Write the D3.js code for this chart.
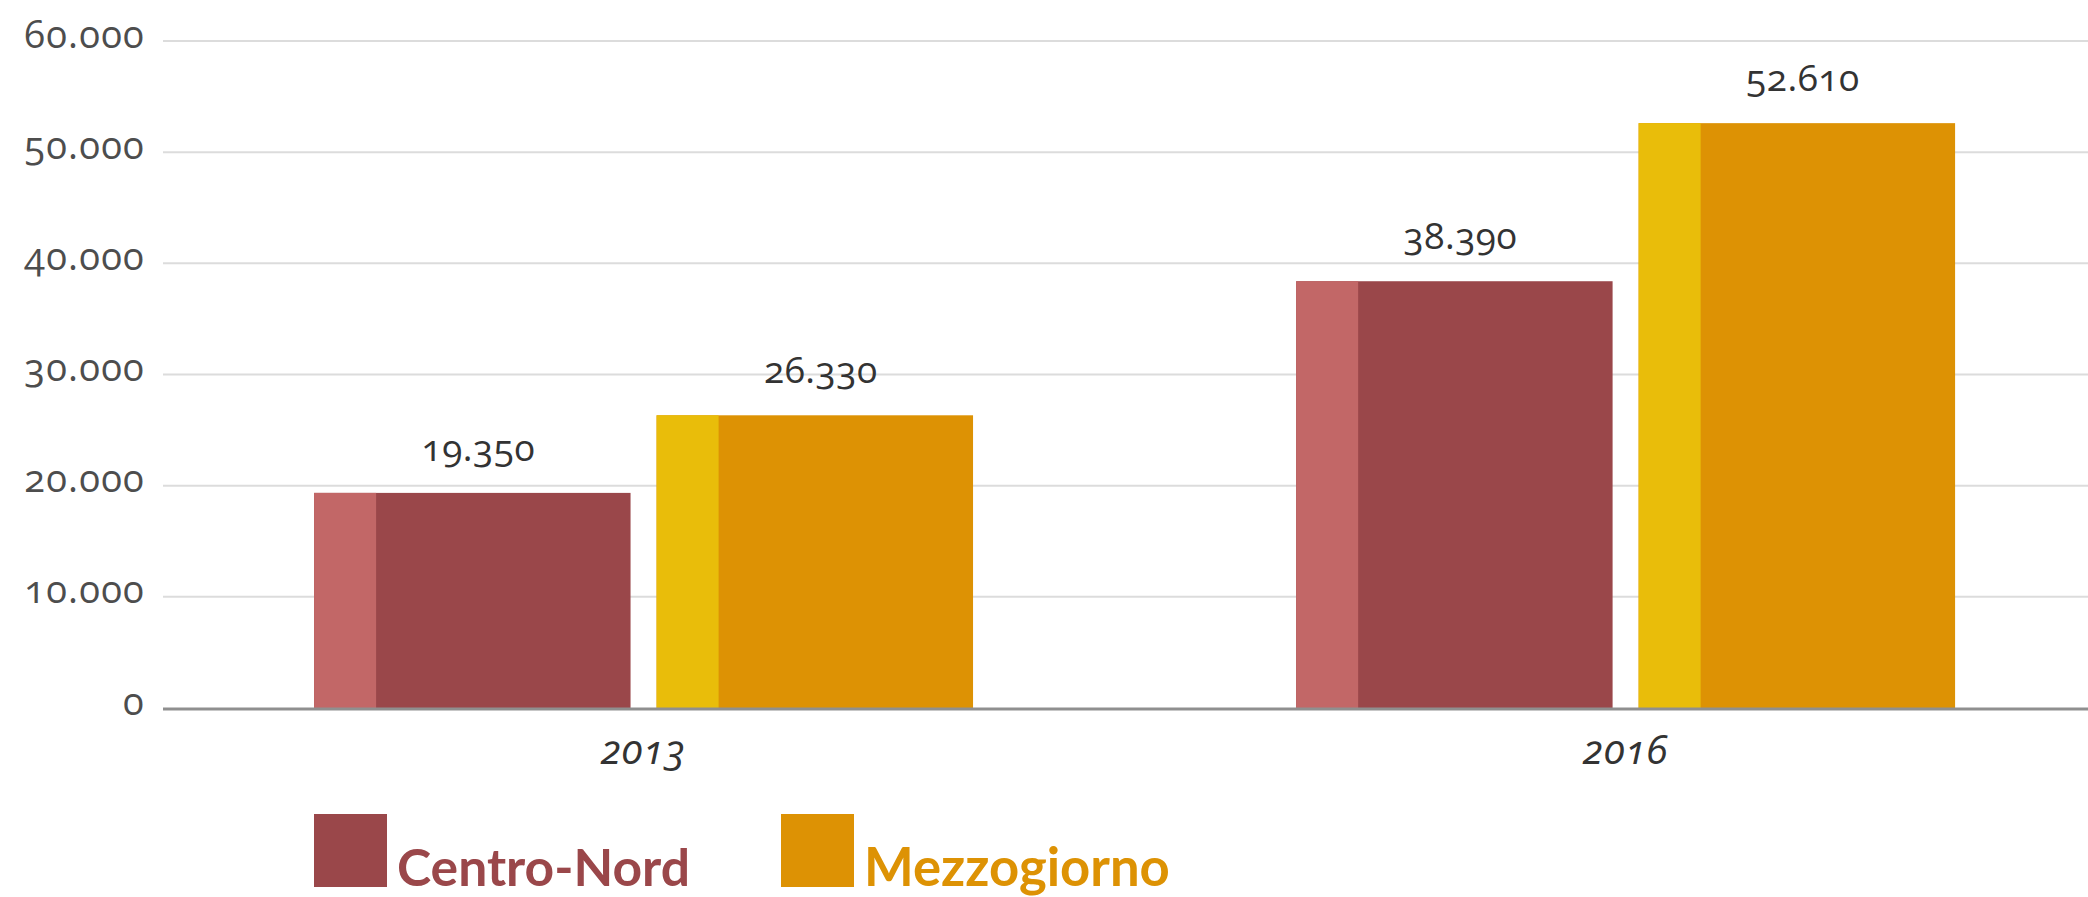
<!DOCTYPE html>
<html>
<head>
<meta charset="utf-8">
<script src="https://cdn.jsdelivr.net/npm/d3@7"></script>
<style>
  html, body { margin: 0; padding: 0; background: #ffffff; }
  svg { display: block; }
  .num { font-family: "Open Sans", "Noto Sans", sans-serif; font-variant-numeric: oldstyle-nums; font-feature-settings: "onum" 1; }
</style>
</head>
<body>
<svg id="chart" width="2088" height="897"></svg>
<script>
// ---- data ----
const years = ["2013", "2016"];
const seriesNames = ["Centro-Nord", "Mezzogiorno"];
const centroNord = [19350, 38390];
const mezzogiorno = [26330, 52610];
const yTicks = [0, 10000, 20000, 30000, 40000, 50000, 60000];

const darkColors = {"Centro-Nord": "#9a474a", "Mezzogiorno": "#dd9204"};
const lightColors = {"Centro-Nord": "#c26767", "Mezzogiorno": "#e9bd0a"};

const W = 2088, H = 897;
const svg = d3.select("#chart");

const locale = d3.formatLocale({decimal: ",", thousands: ".", grouping: [3], currency: ["€", ""]});
const fmt = locale.format(",d");

const y = d3.scaleLinear().domain([0, 60000]).range([708, 41]);
const x0 = d3.scaleBand().domain(years).range([163, W])
  .paddingInner(0.329).paddingOuter(0.1446).align(0.532);
const x1 = d3.scaleBand().domain(seriesNames).range([0, x0.bandwidth()]).paddingInner(0.076);

const rows = years.map((yr, i) => ({year: yr, values: [
  {name: "Centro-Nord", value: centroNord[i]},
  {name: "Mezzogiorno", value: mezzogiorno[i]}
]}));

// gridlines
svg.append("g").selectAll("line").data(yTicks.filter(d => d > 0)).join("line")
  .attr("x1", 163).attr("x2", W)
  .attr("y1", d => y(d)).attr("y2", d => y(d))
  .attr("stroke", "#dcdcdc").attr("stroke-width", 2);

// y tick labels via axis
const yAxis = d3.axisLeft(y).tickValues(yTicks).tickFormat(fmt).tickSize(0).tickPadding(0);
const ya = svg.append("g").attr("transform", "translate(145,0)").call(yAxis);
ya.select(".domain").remove();
ya.selectAll("text")
  .attr("class", "num")
  .attr("font-size", 38)
  .attr("letter-spacing", 1.2)
  .attr("fill", "#4d4d4d")
  .attr("dy", "0.16em");

// bars
const groups = svg.append("g").selectAll("g").data(rows).join("g")
  .attr("transform", d => `translate(${x0(d.year)},0)`);

const lightFrac = 0.196;
groups.selectAll("rect.dark").data(d => d.values).join("rect")
  .attr("class", "dark")
  .attr("x", d => x1(d.name))
  .attr("y", d => y(d.value))
  .attr("width", x1.bandwidth())
  .attr("height", d => y(0) - y(d.value))
  .attr("fill", d => darkColors[d.name]);
groups.selectAll("rect.light").data(d => d.values).join("rect")
  .attr("class", "light")
  .attr("x", d => x1(d.name))
  .attr("y", d => y(d.value))
  .attr("width", x1.bandwidth() * lightFrac)
  .attr("height", d => y(0) - y(d.value))
  .attr("fill", d => lightColors[d.name]);

// value labels
groups.selectAll("text.val").data(d => d.values).join("text")
  .attr("class", "val num")
  .attr("x", d => x1(d.name) + x1.bandwidth() / 2 + 6)
  .attr("y", d => y(d.value) - 32)
  .attr("text-anchor", "middle")
  .attr("font-size", 37)
  .attr("letter-spacing", 0.5)
  .attr("fill", "#333333")
  .text(d => fmt(d.value));

// baseline axis
svg.append("line")
  .attr("x1", 163).attr("x2", W)
  .attr("y1", y(0) + 1).attr("y2", y(0) + 1)
  .attr("stroke", "#8f8f8f").attr("stroke-width", 3);

// x axis labels
const xAxis = d3.axisBottom(x0).tickSize(0).tickPadding(0);
const xa = svg.append("g").attr("transform", `translate(0,${y(0)})`).call(xAxis);
xa.select(".domain").remove();
xa.selectAll("text")
  .attr("class", "num")
  .attr("font-size", 40)
  .attr("font-style", "italic")
  .attr("letter-spacing", 1)
  .attr("fill", "#333333")
  .attr("dy", 0)
  .attr("y", 56);

// legend
const legendX = [314, 781];
const legendW = [293, 306];
const leg = svg.append("g").selectAll("g").data(seriesNames).join("g")
  .attr("transform", (d, i) => `translate(${legendX[i]},814)`);
leg.append("rect").attr("width", 73).attr("height", 73)
  .attr("fill", d => darkColors[d]);
leg.append("text")
  .attr("x", 83).attr("y", 72)
  .attr("font-family", "Lato, 'Open Sans', sans-serif")
  .attr("font-weight", "bold")
  .attr("font-size", 48)
  .attr("fill", d => darkColors[d])
  .text(d => d)
  .each(function(d, i) {
    const w = this.getComputedTextLength();
    if (w > 0) d3.select(this).attr("font-size", 48 * legendW[i] / w);
  });
</script>
</body>
</html>
